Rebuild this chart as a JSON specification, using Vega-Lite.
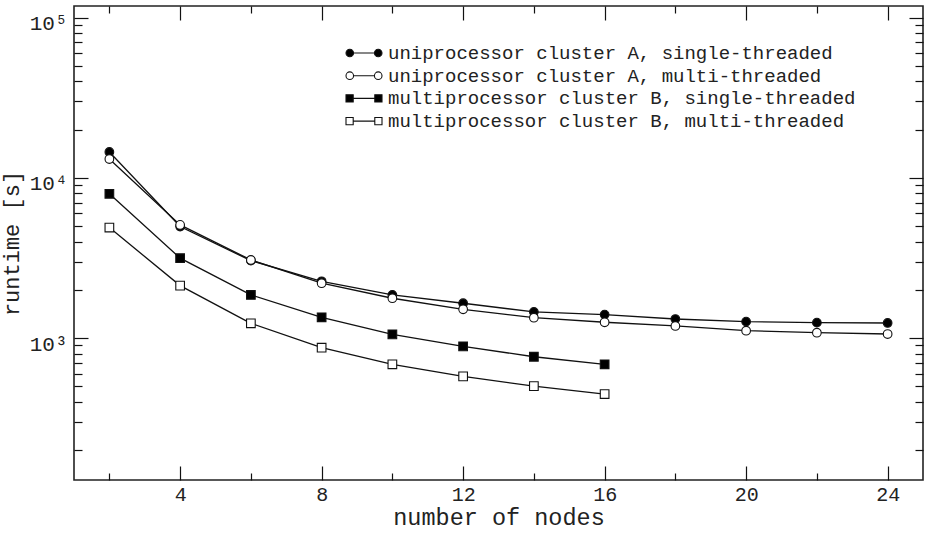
{
  "$schema": "https://vega.github.io/schema/vega-lite/v6.json",
  "autosize": {"type": "none"},
  "padding": {"left": 74, "top": 6, "right": 5, "bottom": 53},
  "width": 849,
  "height": 474,
  "background": "white",
  "config": {
    "view": {"stroke": "#222", "strokeWidth": 1.6},
    "font": "Liberation Mono",
    "axis": {"grid": false, "domain": false, "tickColor": "#111", "tickWidth": 1.2, "labelColor": "#222", "titleColor": "#222", "labelFont": "Liberation Mono", "titleFont": "Liberation Mono", "titleFontWeight": "normal", "labelFontSize": 21, "titleFontSize": 22}
  },
  "data": {"values": [
    {"n": 2, "series": "uniprocessor cluster A, single-threaded", "t": 14480},
    {"n": 4, "series": "uniprocessor cluster A, single-threaded", "t": 4960},
    {"n": 6, "series": "uniprocessor cluster A, single-threaded", "t": 3040},
    {"n": 8, "series": "uniprocessor cluster A, single-threaded", "t": 2260},
    {"n": 10, "series": "uniprocessor cluster A, single-threaded", "t": 1857},
    {"n": 12, "series": "uniprocessor cluster A, single-threaded", "t": 1648},
    {"n": 14, "series": "uniprocessor cluster A, single-threaded", "t": 1454},
    {"n": 16, "series": "uniprocessor cluster A, single-threaded", "t": 1400},
    {"n": 18, "series": "uniprocessor cluster A, single-threaded", "t": 1314},
    {"n": 20, "series": "uniprocessor cluster A, single-threaded", "t": 1265},
    {"n": 22, "series": "uniprocessor cluster A, single-threaded", "t": 1247},
    {"n": 24, "series": "uniprocessor cluster A, single-threaded", "t": 1241},
    {"n": 2, "series": "uniprocessor cluster A, multi-threaded", "t": 13090},
    {"n": 4, "series": "uniprocessor cluster A, multi-threaded", "t": 5080},
    {"n": 6, "series": "uniprocessor cluster A, multi-threaded", "t": 3070},
    {"n": 8, "series": "uniprocessor cluster A, multi-threaded", "t": 2198},
    {"n": 10, "series": "uniprocessor cluster A, multi-threaded", "t": 1771},
    {"n": 12, "series": "uniprocessor cluster A, multi-threaded", "t": 1511},
    {"n": 14, "series": "uniprocessor cluster A, multi-threaded", "t": 1339},
    {"n": 16, "series": "uniprocessor cluster A, multi-threaded", "t": 1254},
    {"n": 18, "series": "uniprocessor cluster A, multi-threaded", "t": 1189},
    {"n": 20, "series": "uniprocessor cluster A, multi-threaded", "t": 1111},
    {"n": 22, "series": "uniprocessor cluster A, multi-threaded", "t": 1079},
    {"n": 24, "series": "uniprocessor cluster A, multi-threaded", "t": 1059},
    {"n": 2, "series": "multiprocessor cluster B, single-threaded", "t": 7943},
    {"n": 4, "series": "multiprocessor cluster B, single-threaded", "t": 3150},
    {"n": 6, "series": "multiprocessor cluster B, single-threaded", "t": 1857},
    {"n": 8, "series": "multiprocessor cluster B, single-threaded", "t": 1347},
    {"n": 10, "series": "multiprocessor cluster B, single-threaded", "t": 1054},
    {"n": 12, "series": "multiprocessor cluster B, single-threaded", "t": 887},
    {"n": 14, "series": "multiprocessor cluster B, single-threaded", "t": 764},
    {"n": 16, "series": "multiprocessor cluster B, single-threaded", "t": 685},
    {"n": 2, "series": "multiprocessor cluster B, multi-threaded", "t": 4890},
    {"n": 4, "series": "multiprocessor cluster B, multi-threaded", "t": 2123},
    {"n": 6, "series": "multiprocessor cluster B, multi-threaded", "t": 1235},
    {"n": 8, "series": "multiprocessor cluster B, multi-threaded", "t": 870},
    {"n": 10, "series": "multiprocessor cluster B, multi-threaded", "t": 685},
    {"n": 12, "series": "multiprocessor cluster B, multi-threaded", "t": 576},
    {"n": 14, "series": "multiprocessor cluster B, multi-threaded", "t": 501},
    {"n": 16, "series": "multiprocessor cluster B, multi-threaded", "t": 447}
  ]},
  "layer": [
    {
      "mark": {"type": "line", "color": "#111", "strokeWidth": 1.3},
      "encoding": {
        "x": {"field": "n", "type": "quantitative", "scale": {"domain": [1, 25], "nice": false, "zero": false},
              "axis": {"orient": "bottom", "values": [4, 8, 12, 16, 20, 24], "tickSize": -14, "labelPadding": 18, "labelFontSize": 20, "title": "number of nodes", "titleFontSize": 23.5, "titlePadding": 1.5}},
        "y": {"field": "t", "type": "quantitative", "scale": {"type": "log", "domain": [130, 118000], "nice": false},
              "axis": {"orient": "left", "values": [1000, 10000, 100000], "tickSize": -14, "labelPadding": 21, "labelOffset": 6, "labelExpr": "datum.value == 1000 ? '10³' : datum.value == 10000 ? '10⁴' : '10⁵'", "title": "runtime [s]", "titlePadding": 6}},
        "detail": {"field": "series"}
      }
    },
    {
      "mark": {"type": "point", "filled": true, "stroke": "#111", "strokeWidth": 1.1, "size": 75, "opacity": 1},
      "encoding": {
        "x": {"field": "n", "type": "quantitative",
              "axis": {"orient": "bottom", "values": [2, 6, 10, 14, 18, 22], "tickSize": -7, "labels": false, "title": null}},
        "y": {"field": "t", "type": "quantitative",
              "axis": {"orient": "left", "values": [200, 300, 400, 500, 600, 700, 800, 900, 2000, 3000, 4000, 5000, 6000, 7000, 8000, 9000, 20000, 30000, 40000, 50000, 60000, 70000, 80000, 90000], "tickSize": -8, "labels": false, "title": null}},
        "shape": {"field": "series", "type": "nominal", "legend": null,
                  "scale": {"domain": ["uniprocessor cluster A, single-threaded", "uniprocessor cluster A, multi-threaded", "multiprocessor cluster B, single-threaded", "multiprocessor cluster B, multi-threaded"], "range": ["circle", "circle", "square", "square"]}},
        "fill": {"field": "series", "type": "nominal", "legend": null,
                 "scale": {"domain": ["uniprocessor cluster A, single-threaded", "uniprocessor cluster A, multi-threaded", "multiprocessor cluster B, single-threaded", "multiprocessor cluster B, multi-threaded"], "range": ["#000", "#fff", "#000", "#fff"]}}
      }
    },
    {
      "mark": {"type": "point", "filled": true, "stroke": "#111", "strokeWidth": 1.1, "opacity": 0},
      "encoding": {
        "x": {"field": "n", "type": "quantitative",
              "axis": {"orient": "top", "values": [4, 8, 12, 16, 20, 24], "tickSize": -14, "labels": false, "title": null}},
        "y": {"field": "t", "type": "quantitative",
              "axis": {"orient": "right", "values": [1000, 10000, 100000], "tickSize": -14, "labels": false, "title": null}},
        "shape": {"field": "series", "type": "nominal",
                  "scale": {"domain": ["uniprocessor cluster A, single-threaded", "uniprocessor cluster A, multi-threaded", "multiprocessor cluster B, single-threaded", "multiprocessor cluster B, multi-threaded"],
                            "range": [
                              "M-1.16,0A0.42,0.42 0 1 1 -2,0A0.42,0.42 0 1 1 -1.16,0ZM2,0A0.42,0.42 0 1 1 1.16,0A0.42,0.42 0 1 1 2,0ZM-1.16,0L1.16,0",
                              "M-1.16,0A0.42,0.42 0 1 1 -2,0A0.42,0.42 0 1 1 -1.16,0ZM2,0A0.42,0.42 0 1 1 1.16,0A0.42,0.42 0 1 1 2,0ZM-1.16,0L1.16,0",
                              "M-2,-0.4L-1.2,-0.4L-1.2,0.4L-2,0.4ZM1.2,-0.4L2,-0.4L2,0.4L1.2,0.4ZM-1.2,0L1.2,0",
                              "M-2,-0.4L-1.2,-0.4L-1.2,0.4L-2,0.4ZM1.2,-0.4L2,-0.4L2,0.4L1.2,0.4ZM-1.2,0L1.2,0"
                            ]},
                  "legend": {"title": null, "orient": "none", "legendX": 280, "legendY": 37, "padding": 0, "symbolSize": 324, "symbolOpacity": 1, "symbolStrokeColor": "#111", "symbolStrokeWidth": 1.1, "labelFont": "Liberation Mono", "labelFontSize": 19, "labelColor": "#222", "labelOffset": 14, "rowPadding": 2.7, "labelLimit": 600,
                             "encode": {"symbols": {"update": {"stroke": {"value": "#111"}, "strokeWidth": {"value": 1.1}, "opacity": {"value": 1}, "strokeOpacity": {"value": 1}}}}}},
        "fill": {"field": "series", "type": "nominal",
                 "scale": {"domain": ["uniprocessor cluster A, single-threaded", "uniprocessor cluster A, multi-threaded", "multiprocessor cluster B, single-threaded", "multiprocessor cluster B, multi-threaded"], "range": ["#000", "#fff", "#000", "#fff"]},
                 "legend": {"title": null, "orient": "none", "legendX": 280, "legendY": 37, "padding": 0, "symbolSize": 324, "symbolOpacity": 1, "symbolStrokeColor": "#111", "symbolStrokeWidth": 1.1, "labelFont": "Liberation Mono", "labelFontSize": 19, "labelColor": "#222", "labelOffset": 14, "rowPadding": 2.7, "labelLimit": 600,
                            "encode": {"symbols": {"update": {"stroke": {"value": "#111"}, "strokeWidth": {"value": 1.1}, "opacity": {"value": 1}, "strokeOpacity": {"value": 1}}}}}}
      }
    },
    {
      "mark": {"type": "point", "opacity": 0},
      "encoding": {
        "x": {"field": "n", "type": "quantitative",
              "axis": {"orient": "top", "values": [2, 6, 10, 14, 18, 22], "tickSize": -7, "labels": false, "title": null}},
        "y": {"field": "t", "type": "quantitative",
              "axis": {"orient": "right", "values": [200, 300, 400, 500, 600, 700, 800, 900, 2000, 3000, 4000, 5000, 6000, 7000, 8000, 9000, 20000, 30000, 40000, 50000, 60000, 70000, 80000, 90000], "tickSize": -8, "labels": false, "title": null}}
      }
    }
  ],
  "resolve": {
    "axis": {"x": "independent", "y": "independent"},
    "scale": {"shape": "independent", "fill": "independent"}
  }
}
